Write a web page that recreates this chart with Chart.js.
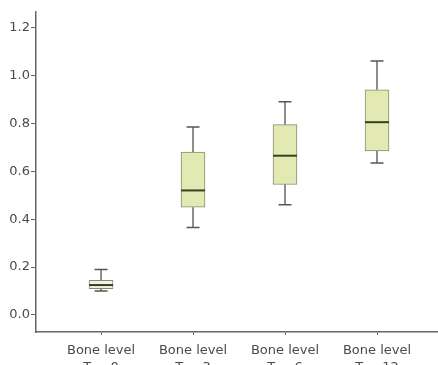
<!DOCTYPE html>
<html>
<head>
<meta charset="utf-8">
<script src="https://cdn.jsdelivr.net/npm/chart.js@4/dist/chart.umd.min.js"></script>
<style>
  html, body { margin: 0; padding: 0; background: #ffffff; }
  #wrap { width: 438px; height: 365px; }
</style>
</head>
<body>
<div id="wrap"><canvas id="c" width="438" height="365"></canvas></div>
<script>
// Bone level measurements at each follow-up time
const categories = ['T = 0', 'T = 3', 'T = 6', 'T = 12'];
const whiskerLow  = [0.100, 0.365, 0.460, 0.635];
const quartileLow = [0.110, 0.450, 0.545, 0.685];
const medians     = [0.125, 0.520, 0.665, 0.805];
const quartileHigh= [0.145, 0.680, 0.795, 0.940];
const whiskerHigh = [0.190, 0.785, 0.890, 1.060];
const yTicks = [0.0, 0.2, 0.4, 0.6, 0.8, 1.0, 1.2];

const boxFill = ['rgba(240,242,226,1)', 'rgba(226,233,178,1)', 'rgba(226,233,178,1)', 'rgba(226,233,178,1)'];

// Whiskers, caps and median lines on top of the floating-bar boxes
const boxExtras = {
  id: 'boxExtras',
  afterDatasetsDraw(chart) {
    const { ctx, scales: { x, y } } = chart;
    ctx.save();
    categories.forEach((_, i) => {
      const cx = x.getPixelForValue(i);
      const capHalf = 6.5;
      const boxHalf = 12;
      ctx.strokeStyle = '#666a60';
      ctx.lineWidth = 1.5;
      ctx.beginPath();
      ctx.moveTo(cx, y.getPixelForValue(quartileHigh[i]));
      ctx.lineTo(cx, y.getPixelForValue(whiskerHigh[i]));
      ctx.moveTo(cx, y.getPixelForValue(quartileLow[i]));
      ctx.lineTo(cx, y.getPixelForValue(whiskerLow[i]));
      ctx.stroke();
      ctx.strokeStyle = '#55584e';
      ctx.beginPath();
      const yt = y.getPixelForValue(whiskerHigh[i]);
      const yb = y.getPixelForValue(whiskerLow[i]);
      ctx.moveTo(cx - capHalf, yt); ctx.lineTo(cx + capHalf, yt);
      ctx.moveTo(cx - capHalf, yb); ctx.lineTo(cx + capHalf, yb);
      ctx.stroke();
      ctx.strokeStyle = '#37401c';
      ctx.lineWidth = 2;
      ctx.beginPath();
      const ym = y.getPixelForValue(medians[i]);
      ctx.moveTo(cx - boxHalf, ym); ctx.lineTo(cx + boxHalf, ym);
      ctx.stroke();
    });
    ctx.restore();
  }
};

new Chart(document.getElementById('c'), {
  type: 'bar',
  data: {
    datasets: [{
      data: categories.map((_, i) => ({ x: i, y: [quartileLow[i], quartileHigh[i]] })),
      backgroundColor: boxFill,
      borderColor: '#858a72',
      borderWidth: 1,
      borderSkipped: false,
      barThickness: 24
    }]
  },
  options: {
    responsive: false,
    animation: false,
    layout: { padding: { top: 12, right: 0, left: 0, bottom: 0 } },
    plugins: { legend: { display: false }, tooltip: { enabled: false } },
    scales: {
      x: {
        type: 'linear',
        offset: false,
        min: -0.707,
        max: 3.663,
        afterBuildTicks(scale) { scale.ticks = categories.map((_, i) => ({ value: i })); },
        afterFit(scale) { scale.height = 33; },
        grid: { display: true, offset: false, drawOnChartArea: false, drawTicks: true, tickLength: 3, color: '#666' },
        border: { display: true, color: '#666666', width: 1.5 },
        ticks: {
          padding: 7,
          maxRotation: 0,
          autoSkip: false,
          color: '#4a4a4a',
          font: { family: 'DejaVu Sans', size: 13, lineHeight: 1.3 },
          callback: (v) => ['Bone level', categories[v]]
        }
      },
      y: {
        type: 'linear',
        min: -0.071,
        max: 1.265,
        afterBuildTicks(scale) { scale.ticks = yTicks.map(v => ({ value: v })); },
        afterFit(scale) { scale.width = 36; },
        grid: { display: true, drawOnChartArea: false, drawTicks: true, tickLength: 5, color: '#666' },
        border: { display: true, color: '#666666', width: 1.5 },
        ticks: {
          padding: 1,
          color: '#4a4a4a',
          font: { family: 'DejaVu Sans', size: 13 },
          callback: (v) => v.toFixed(1)
        }
      }
    }
  },
  plugins: [boxExtras]
});
</script>
</body>
</html>
